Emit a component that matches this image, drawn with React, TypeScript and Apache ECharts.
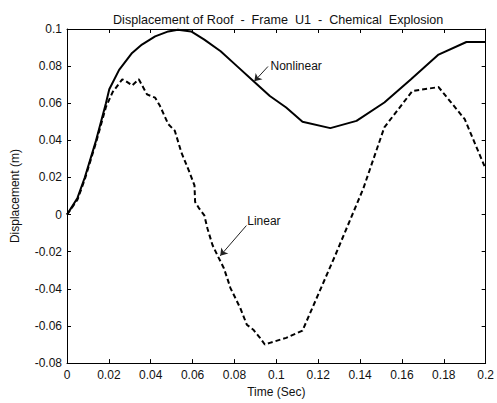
import React, { useEffect, useRef } from "react";
import * as echarts from "echarts";

const titleText = "Displacement of Roof  -  Frame  U1  -  Chemical  Explosion";
const xName = "Time (Sec)";
const yName = "Displacement (m)";

const nonlinearT = [0, 0.005, 0.0085, 0.0139, 0.0186, 0.0202, 0.0249, 0.0311, 0.0358, 0.0421, 0.0484, 0.053, 0.0593, 0.0656, 0.0734, 0.0812, 0.089, 0.0969, 0.1047, 0.1125, 0.1258, 0.1383, 0.1516, 0.1642, 0.1775, 0.1908, 0.2];
const nonlinearV = [0, 0.009, 0.02, 0.04, 0.06, 0.0675, 0.078, 0.0871, 0.0916, 0.096, 0.0987, 0.0996, 0.0987, 0.0943, 0.088, 0.08, 0.072, 0.0639, 0.0577, 0.05, 0.0466, 0.0505, 0.0604, 0.0728, 0.0862, 0.093, 0.093];

const linearT = [0, 0.005, 0.0085, 0.0139, 0.0186, 0.0218, 0.0264, 0.028, 0.0311, 0.0343, 0.0382, 0.0421, 0.0444, 0.0484, 0.0515, 0.0546, 0.0585, 0.0609, 0.0612, 0.0632, 0.0656, 0.0671, 0.0695, 0.0718, 0.075, 0.0781, 0.0828, 0.0859, 0.089, 0.0922, 0.0945, 0.0969, 0.1047, 0.1125, 0.1282, 0.1415, 0.1516, 0.165, 0.1775, 0.19, 0.2];
const linearV = [0, 0.008, 0.019, 0.039, 0.058, 0.066, 0.0729, 0.072, 0.0696, 0.0729, 0.0648, 0.063, 0.0586, 0.0487, 0.0452, 0.0336, 0.0229, 0.0157, 0.0068, 0.0032, -0.0004, -0.0075, -0.0164, -0.0218, -0.029, -0.0396, -0.0504, -0.0593, -0.062, -0.0664, -0.07, -0.0691, -0.0664, -0.0625, -0.0218, 0.0139, 0.047, 0.0666, 0.0687, 0.0514, 0.0246];

// annotation anchors (data coordinates)
const nonlinearLabel = { text: "Nonlinear", at: [0.0972, 0.0803], from: [0.096, 0.0798], to: [0.0895, 0.0718] };
const linearLabel = { text: "Linear", at: [0.0861, -0.0037], from: [0.0857, -0.0059], to: [0.0732, -0.0222] };

const FONT = "Liberation Sans, Arial, sans-serif";

export default function App() {
  const ref = useRef<HTMLDivElement>(null);
  useEffect(() => {
    if (!ref.current) return;
    const chart = echarts.init(ref.current, undefined, { renderer: "svg" });
    const fmt = (v: number) => String(+v.toFixed(2));
    const tickCommon = { inside: true, length: 4, lineStyle: { color: "#000", width: 1 } };
    const axisLine = { show: true, onZero: false, lineStyle: { color: "#000", width: 1 } };
    const arrowLine = (a: any) => ({
      silent: true,
      symbol: ["none", "arrow"],
      symbolSize: 7,
      lineStyle: { type: "solid", color: "#222", width: 1 },
      label: { show: false },
      data: [[{ coord: a.from }, { coord: a.to }]],
    });
    chart.setOption({
      animation: false,
      backgroundColor: "#fff",
      textStyle: { fontFamily: FONT },
      title: {
        text: titleText,
        left: 108,
        top: 8,
        textStyle: { fontSize: 12.6, fontWeight: "normal", color: "#111", fontFamily: FONT },
      },
      grid: { left: 67, top: 29, right: 4, bottom: 38 },
      xAxis: [
        {
          type: "value", min: 0, max: 0.2, interval: 0.02, position: "bottom",
          name: xName, nameLocation: "middle", nameGap: 22,
          nameTextStyle: { fontSize: 12, color: "#111", fontFamily: FONT },
          axisLine, axisTick: tickCommon, splitLine: { show: false },
          axisLabel: { formatter: fmt, fontSize: 12, color: "#111", margin: 6, fontFamily: FONT, showMaxLabel: true },
        },
        {
          type: "value", min: 0, max: 0.2, interval: 0.02, position: "top",
          axisLine, axisTick: tickCommon, splitLine: { show: false }, axisLabel: { show: false },
        },
      ],
      yAxis: [
        {
          type: "value", min: -0.08, max: 0.1, interval: 0.02, position: "left",
          name: yName, nameLocation: "middle", nameGap: 46,
          nameTextStyle: { fontSize: 12, color: "#111", fontFamily: FONT },
          axisLine, axisTick: tickCommon, splitLine: { show: false },
          axisLabel: { formatter: fmt, fontSize: 12, color: "#111", margin: 5, fontFamily: FONT },
        },
        {
          type: "value", min: -0.08, max: 0.1, interval: 0.02, position: "right",
          axisLine, axisTick: tickCommon, splitLine: { show: false }, axisLabel: { show: false },
        },
      ],
      series: [
        {
          name: "Nonlinear", type: "line", showSymbol: false, symbol: "none",
          data: nonlinearT.map((t, i) => [t, nonlinearV[i]]),
          lineStyle: { color: "#000", width: 2 },
          markLine: arrowLine(nonlinearLabel),
        },
        {
          name: "Linear", type: "line", showSymbol: false, symbol: "none",
          data: linearT.map((t, i) => [t, linearV[i]]),
          lineStyle: { color: "#000", width: 2, type: [5, 3] },
          markLine: arrowLine(linearLabel),
        },
      ],
    });
    const toPx = (p: number[]) => chart.convertToPixel({ xAxisIndex: 0, yAxisIndex: 0 }, p) as number[];
    const labelGraphic = (a: any) => {
      const p = toPx(a.at);
      return {
        type: "text", x: p[0], y: p[1],
        style: { text: a.text, fontSize: 12, fill: "#111", fontFamily: FONT, textAlign: "left", textVerticalAlign: "middle" },
      };
    };
    chart.setOption({ graphic: [labelGraphic(nonlinearLabel), labelGraphic(linearLabel)] });
    return () => chart.dispose();
  }, []);
  return <div ref={ref} style={{ position: "fixed", left: 0, top: 0, width: 497, height: 403 }} />;
}
